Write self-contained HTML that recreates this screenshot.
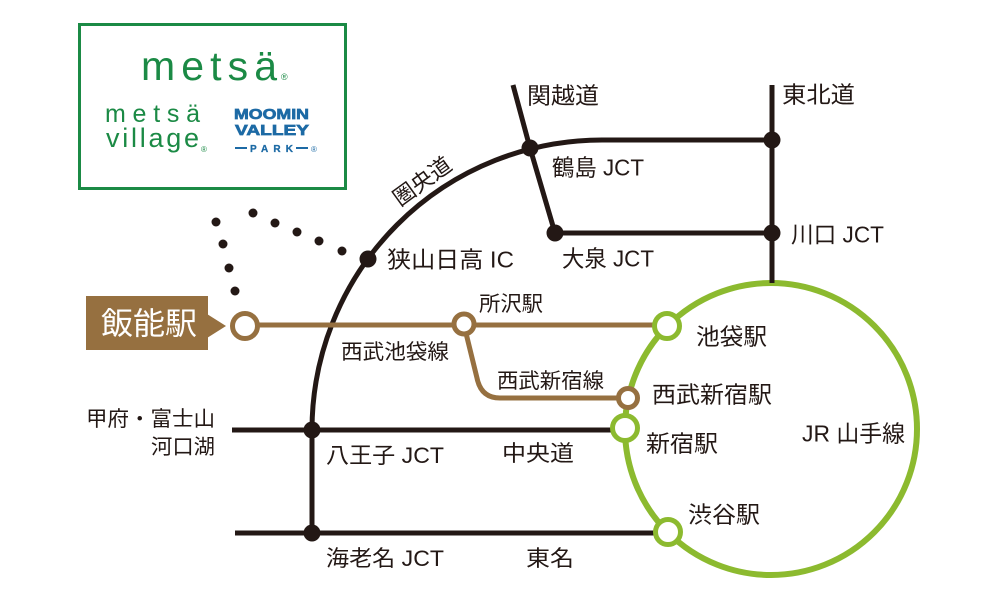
<!DOCTYPE html>
<html>
<head>
<meta charset="utf-8">
<style>
  html,body{margin:0;padding:0;background:#fff;}
  svg{display:block;}
  text{font-family:"Liberation Sans","Noto Sans CJK JP",sans-serif;fill:#231815;}
</style>
</head>
<body>
<svg width="1000" height="603" viewBox="0 0 1000 603" xmlns="http://www.w3.org/2000/svg">
  <rect x="0" y="0" width="1000" height="603" fill="#fff"/>

  <!-- Logo box -->
  <rect x="79.5" y="24.5" width="266" height="164" fill="none" stroke="#1b8a45" stroke-width="3"/>
  <text x="141" y="80" font-size="41" textLength="136" lengthAdjust="spacing" style="fill:#1b8a45">metsä</text>
  <text x="281" y="80" font-size="9" style="fill:#1b8a45">®</text>
  <text x="105" y="122" font-size="25" textLength="95" lengthAdjust="spacing" style="fill:#1b8a45">metsä</text>
  <text x="106" y="147" font-size="27" textLength="93" lengthAdjust="spacing" style="fill:#1b8a45">village</text>
  <text x="201" y="152" font-size="8" style="fill:#1b8a45">®</text>
  <text x="234" y="119" font-size="15" font-weight="bold" textLength="75" lengthAdjust="spacingAndGlyphs" stroke="#1d6aa5" stroke-width="0.7" style="fill:#1d6aa5">MOOMIN</text>
  <text x="235" y="135" font-size="15" font-weight="bold" textLength="74" lengthAdjust="spacingAndGlyphs" stroke="#1d6aa5" stroke-width="0.7" style="fill:#1d6aa5">VALLEY</text>
  <line x1="235" y1="148" x2="247" y2="148" stroke="#1d6aa5" stroke-width="2"/>
  <line x1="296" y1="148" x2="308" y2="148" stroke="#1d6aa5" stroke-width="2"/>
  <text x="250" y="152" font-size="10" font-weight="bold" textLength="43" lengthAdjust="spacing" stroke="#1d6aa5" stroke-width="0.3" style="fill:#1d6aa5">PARK</text>
  <text x="311" y="152" font-size="8" style="fill:#1d6aa5">®</text>

  <!-- JR Yamanote circle -->
  <circle cx="771" cy="429" r="146" fill="none" stroke="#8cba2f" stroke-width="6"/>

  <!-- Expressways -->
  <g stroke="#231815" stroke-width="5" fill="none">
    <path d="M312,533 L312,430 A290,290 0 0 1 602,140 L772,140"/>
    <line x1="772" y1="85" x2="772" y2="283"/>
    <polyline points="513,85 530,148 555,233"/>
    <line x1="555" y1="233" x2="772" y2="233"/>
    <line x1="232" y1="430" x2="612" y2="430"/>
    <line x1="235" y1="533" x2="655" y2="533"/>
  </g>

  <!-- Junction nodes -->
  <g fill="#231815">
    <circle cx="530" cy="148" r="8.5"/>
    <circle cx="772" cy="140" r="8.5"/>
    <circle cx="555" cy="233" r="8.5"/>
    <circle cx="772" cy="233" r="8.5"/>
    <circle cx="368" cy="259" r="8.5"/>
    <circle cx="312" cy="430" r="8.5"/>
    <circle cx="312" cy="533" r="8.5"/>
  </g>

  <!-- Dotted route -->
  <g fill="#231815">
    <circle cx="216" cy="222" r="4.5"/>
    <circle cx="253" cy="213" r="4.5"/>
    <circle cx="275" cy="223" r="4.5"/>
    <circle cx="297" cy="232" r="4.5"/>
    <circle cx="319" cy="241" r="4.5"/>
    <circle cx="342" cy="251" r="4.5"/>
    <circle cx="223" cy="244" r="4.5"/>
    <circle cx="229" cy="268" r="4.5"/>
    <circle cx="235" cy="291" r="4.5"/>
  </g>

  <!-- Seibu lines -->
  <g stroke="#967040" stroke-width="5" fill="none">
    <line x1="245" y1="325" x2="666" y2="325"/>
    <path d="M464,325 L477,378 Q481,398 500,398 L628,398"/>
  </g>

  <!-- Station rings -->
  <circle cx="245" cy="326" r="12.5" fill="#fff" stroke="#967040" stroke-width="5"/>
  <circle cx="464" cy="324" r="10" fill="#fff" stroke="#967040" stroke-width="5"/>
  <circle cx="628" cy="398" r="9.5" fill="#fff" stroke="#967040" stroke-width="5"/>
  <circle cx="667" cy="326" r="12.5" fill="#fff" stroke="#8cba2f" stroke-width="5"/>
  <circle cx="625" cy="428" r="12.5" fill="#fff" stroke="#8cba2f" stroke-width="5"/>
  <circle cx="668" cy="532" r="12.5" fill="#fff" stroke="#8cba2f" stroke-width="5"/>

  <!-- Hanno label -->
  <rect x="86" y="296" width="122" height="54" fill="#967040"/>
  <polygon points="207,314 226,326 207,338" fill="#967040"/>
  <text x="101" y="334.5" font-size="31" textLength="96" lengthAdjust="spacingAndGlyphs" style="fill:#fff">飯能駅</text>

  <!-- Labels -->
  <text x="527" y="103.5" font-size="23" textLength="72" lengthAdjust="spacingAndGlyphs">関越道</text>
  <text x="782" y="102.5" font-size="23" textLength="73" lengthAdjust="spacingAndGlyphs">東北道</text>
  <text x="552" y="175.5" font-size="23" textLength="92" lengthAdjust="spacingAndGlyphs">鶴島 JCT</text>
  <text x="562" y="266.5" font-size="23" textLength="92" lengthAdjust="spacingAndGlyphs">大泉 JCT</text>
  <text x="791" y="242.5" font-size="23" textLength="93" lengthAdjust="spacingAndGlyphs">川口 JCT</text>
  <text x="387" y="267.5" font-size="23" textLength="127" lengthAdjust="spacingAndGlyphs">狭山日高 IC</text>
  <g transform="translate(422,181) rotate(-36)">
    <text x="0" y="8" font-size="22" text-anchor="middle">圏央道</text>
  </g>
  <text x="479" y="311" font-size="21" textLength="64" lengthAdjust="spacingAndGlyphs">所沢駅</text>
  <text x="341" y="359" font-size="21" textLength="108" lengthAdjust="spacingAndGlyphs">西武池袋線</text>
  <text x="497" y="388" font-size="21" textLength="107" lengthAdjust="spacingAndGlyphs">西武新宿線</text>
  <text x="696" y="344.5" font-size="23" textLength="71" lengthAdjust="spacingAndGlyphs">池袋駅</text>
  <text x="652" y="402.5" font-size="23" textLength="120" lengthAdjust="spacingAndGlyphs">西武新宿駅</text>
  <text x="646" y="451.5" font-size="23" textLength="72" lengthAdjust="spacingAndGlyphs">新宿駅</text>
  <text x="688" y="522.5" font-size="23" textLength="72" lengthAdjust="spacingAndGlyphs">渋谷駅</text>
  <text x="802" y="441.5" font-size="23" textLength="103" lengthAdjust="spacingAndGlyphs">JR 山手線</text>
  <text x="86" y="426" font-size="21" textLength="129" lengthAdjust="spacingAndGlyphs">甲府・富士山</text>
  <text x="151" y="454" font-size="21" textLength="64" lengthAdjust="spacingAndGlyphs">河口湖</text>
  <text x="326" y="463" font-size="22" textLength="118" lengthAdjust="spacingAndGlyphs">八王子 JCT</text>
  <text x="326" y="566" font-size="22" textLength="118" lengthAdjust="spacingAndGlyphs">海老名 JCT</text>
  <text x="502" y="461" font-size="22" textLength="72" lengthAdjust="spacingAndGlyphs">中央道</text>
  <text x="526" y="566" font-size="22" textLength="48" lengthAdjust="spacingAndGlyphs">東名</text>
</svg>
</body>
</html>
